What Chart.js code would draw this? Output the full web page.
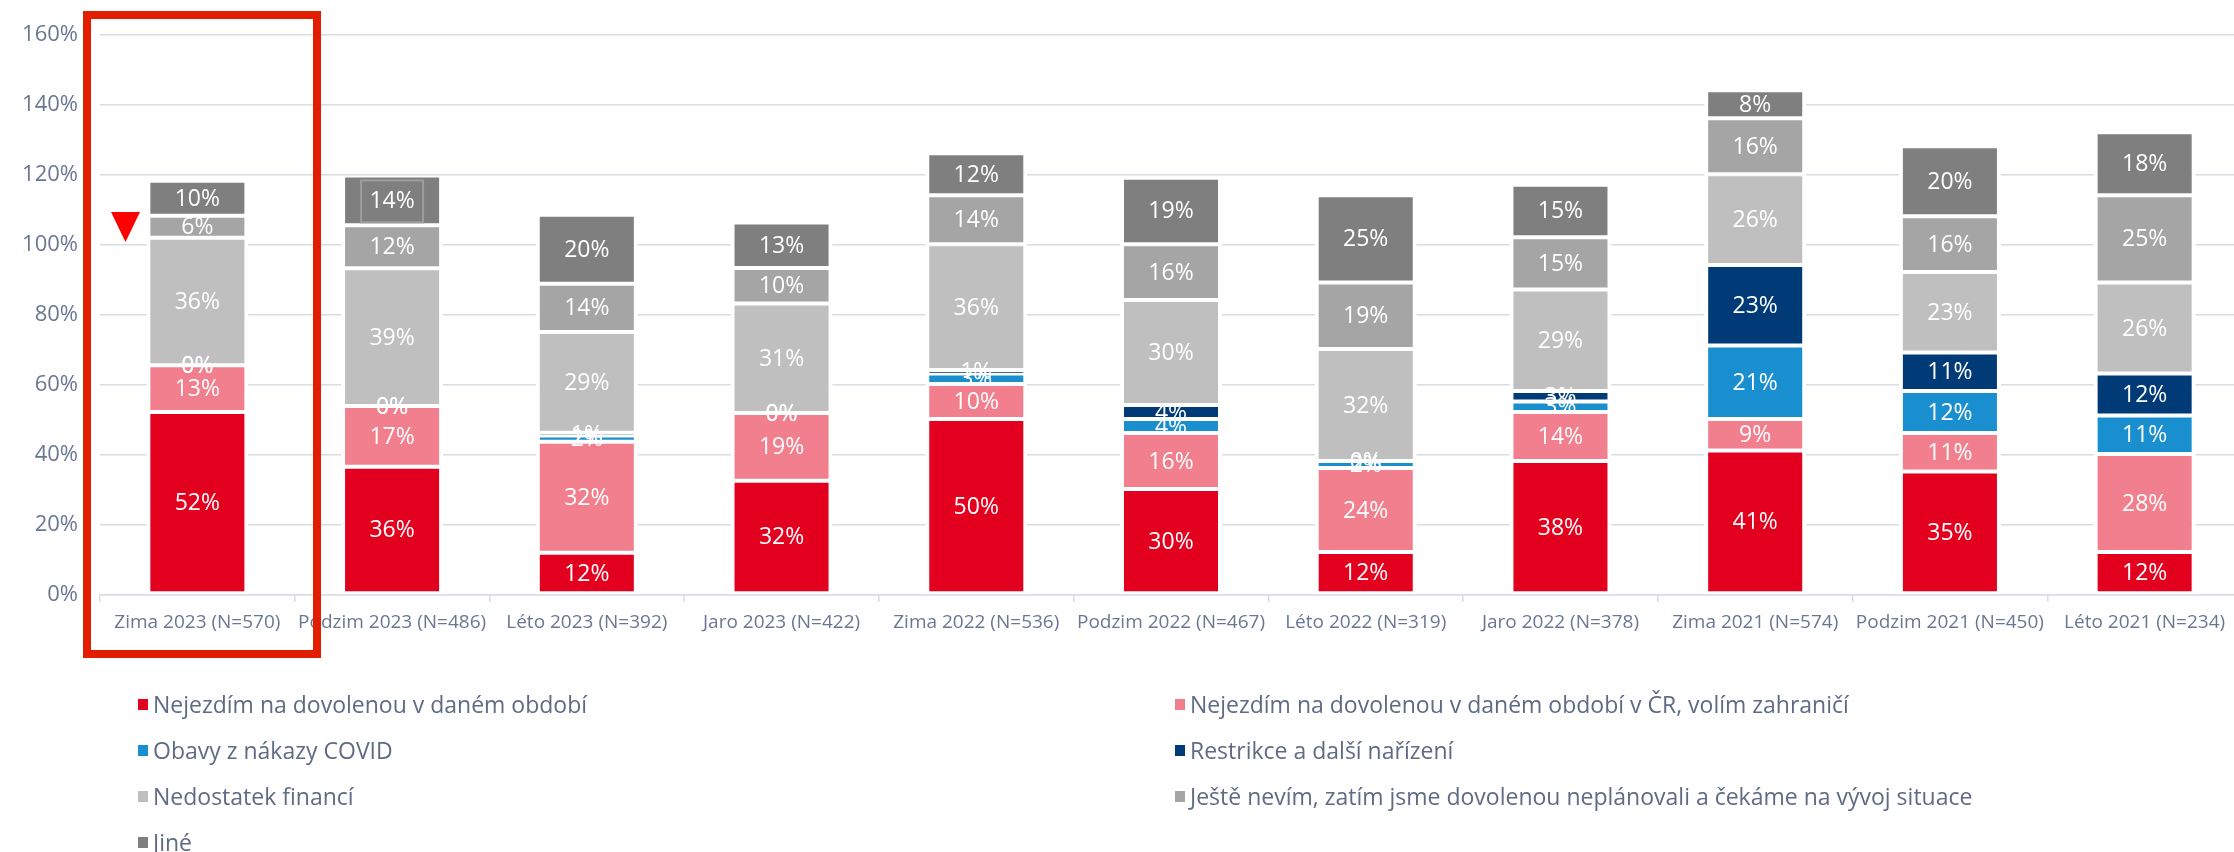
<!DOCTYPE html>
<html><head><meta charset="utf-8">
<script src="https://cdn.jsdelivr.net/npm/chart.js@4.4.0/dist/chart.umd.min.js"></script>
<style>
html,body{margin:0;padding:0;background:#fff;overflow:hidden;width:2234px;height:852px;}
#wrap{position:absolute;left:0;top:0;width:2250px;height:852px;}
#legend{position:absolute;left:0;top:0;width:2234px;height:852px;pointer-events:none;font-family:'Open Sans',sans-serif;}
.li{position:absolute;display:flex;align-items:center;height:32px;font-size:23px;color:#5F6B84;white-space:nowrap;}
.sw{width:10px;height:11px;margin-right:5px;flex:none;}
</style></head><body>
<div id="wrap"><canvas id="c"></canvas></div>
<div id="legend"></div>
<script>
// ---- data (percent; labels show rounded values) ----
const categories = ['Zima 2023 (N=570)', 'Podzim 2023 (N=486)', 'Léto 2023 (N=392)', 'Jaro 2023 (N=422)', 'Zima 2022 (N=536)', 'Podzim 2022 (N=467)', 'Léto 2022 (N=319)', 'Jaro 2022 (N=378)', 'Zima 2021 (N=574)', 'Podzim 2021 (N=450)', 'Léto 2021 (N=234)'];
const seriesNames = ['Nejezdím na dovolenou v daném období', 'Nejezdím na dovolenou v daném období v ČR, volím zahraničí', 'Obavy z nákazy COVID', 'Restrikce a další nařízení', 'Nedostatek financí', 'Ještě nevím, zatím jsme dovolenou neplánovali a čekáme na vývoj situace', 'Jiné'];
const nejezdim  = [52.0, 36.4, 11.8, 32.4, 50, 30, 12, 38, 41, 35, 12];
const zahranici = [13.4, 17.3, 31.7, 19.3, 10, 16, 24, 14, 9, 11, 28];
const covid     = [0, 0, 1.8, 0, 3, 4, 2, 3, 21, 12, 11];
const restrikce = [0, 0, 0.8, 0, 1, 4, 0, 3, 23, 11, 12];
const finance   = [36.4, 39.4, 28.8, 31.3, 36, 30, 32, 29, 26, 23, 26];
const nevim     = [6.3, 12.3, 13.8, 10.2, 14, 16, 19, 15, 16, 16, 25];
const jine      = [10.0, 14.2, 19.7, 13.0, 12, 19, 25, 15, 8, 20, 18];
const yTicks = [0, 20, 40, 60, 80, 100, 120, 140, 160];

// ---- styles ----
const colors = ['#E3001F', '#F27F8E', '#1A8FD0', '#003B78', '#BFBFBF', '#A5A5A5', '#7F7F7F'];
const seriesData = [nejezdim, zahranici, covid, restrikce, finance, nevim, jine];

Chart.defaults.font.family = "'Open Sans', sans-serif";

const datasets = seriesData.map((d, i) => ({
  label: seriesNames[i],
  data: d,
  backgroundColor: colors[i],
  borderColor: '#ffffff',
  borderWidth: {top: 1, bottom: 3, left: 4, right: 4},
  borderSkipped: false,
  barPercentage: 0.524,
  categoryPercentage: 1
}));

const segLabels = {
  id: 'segLabels',
  afterDatasetsDraw(chart) {
    const ctx = chart.ctx;
    ctx.save();
    ctx.font = "23px 'Open Sans'";
    ctx.fillStyle = '#ffffff';
    ctx.textAlign = 'center';
    ctx.textBaseline = 'middle';
    chart.data.datasets.forEach((d, di) => {
      const meta = chart.getDatasetMeta(di);
      meta.data.forEach((el, i) => {
        const v = d.data[i];
        if (v == null) return;
        ctx.fillText(Math.round(v) + '%', el.x, (el.y + el.base) / 2);
      });
    });
    // selection box around one label (as in the original)
    const el = chart.getDatasetMeta(6).data[1];
    if (el) {
      ctx.strokeStyle = '#9E9E9E';
      ctx.lineWidth = 2;
      const cy = (el.y + el.base) / 2;
      ctx.strokeRect(el.x - 31, cy - 21, 62, 42);
    }
    ctx.restore();
  },
  afterDraw(chart) {
    const ctx = chart.ctx;
    ctx.save();
    ctx.strokeStyle = '#E31E00';
    ctx.lineWidth = 8;
    ctx.strokeRect(87, 15, 230, 639);
    ctx.fillStyle = '#FF0000';
    ctx.beginPath();
    ctx.moveTo(111, 212);
    ctx.lineTo(140, 212);
    ctx.lineTo(125.5, 242);
    ctx.closePath();
    ctx.fill();
    ctx.restore();
  }
};

new Chart(document.getElementById('c'), {
  type: 'bar',
  data: {labels: categories, datasets},
  options: {
    responsive: true,
    maintainAspectRatio: false,
    animation: false,
    layout: {padding: {top: 31, right: 8, bottom: 197, left: 0}},
    plugins: {legend: {display: false}, tooltip: {enabled: false}},
    scales: {
      x: {
        stacked: true,
        grid: {display: true, drawOnChartArea: false, drawTicks: true, tickLength: 7, color: '#D9DCE3', lineWidth: 1.5, offset: true},
        border: {display: true, color: '#D9DCE3', width: 1.5},
        ticks: {color: '#6A7793', font: {size: 19}, padding: 9, maxRotation: 0, autoSkip: false},
        afterFit(s) { s.height = 60; }
      },
      y: {
        stacked: true,
        min: yTicks[0],
        max: yTicks[yTicks.length - 1],
        afterBuildTicks(s) { s.ticks = yTicks.map(v => ({value: v})); },
        ticks: {callback: v => v + '%', color: '#6A7793', font: {size: 22}, padding: 22},
        grid: {color: '#D9DCE3', lineWidth: 1.5, drawTicks: false},
        border: {display: false},
        afterFit(s) { s.width = 100; }
      }
    }
  },
  plugins: [segLabels]
});

// ---- legend (HTML, two columns) ----
const leg = document.getElementById('legend');
const colX = [138, 1175];
const rowY = [704, 750, 796, 842];
datasets.forEach((d, i) => {
  const item = document.createElement('div');
  item.className = 'li';
  item.style.left = colX[i % 2] + 'px';
  item.style.top = (rowY[Math.floor(i / 2)] - 16) + 'px';
  const sw = document.createElement('span');
  sw.className = 'sw';
  sw.style.background = d.backgroundColor;
  const tx = document.createElement('span');
  tx.textContent = d.label;
  item.appendChild(sw);
  item.appendChild(tx);
  leg.appendChild(item);
});
</script>
</body></html>
